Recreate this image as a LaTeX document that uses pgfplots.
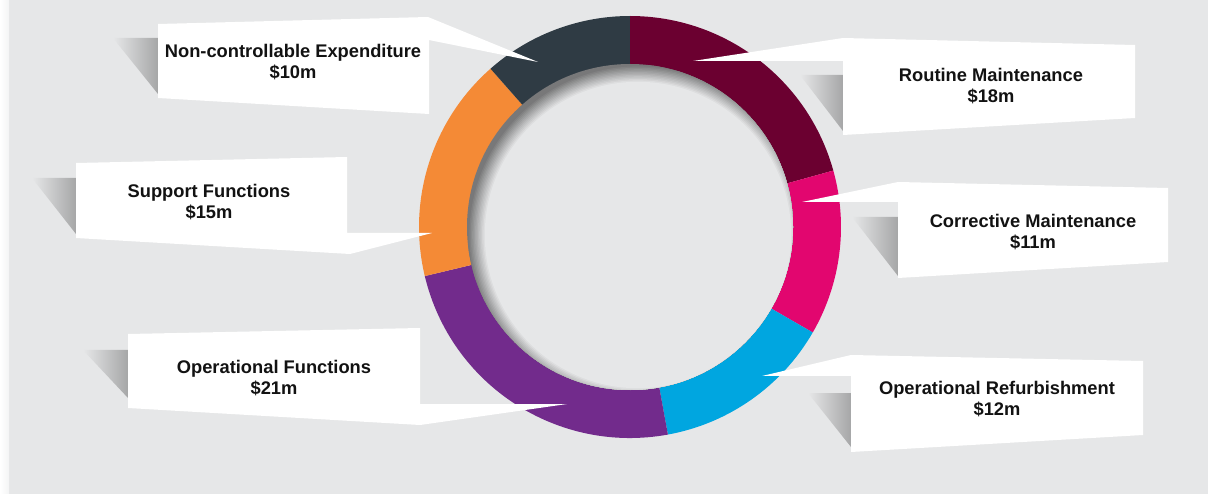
\documentclass[border=0pt]{standalone}
\usepackage{pgfplots}
\pgfplotsset{compat=1.18}
\usepackage{pgfplotstable}
\usepackage{fontspec}
\setmainfont{Liberation Sans}
\definecolor{bg}{HTML}{E6E7E8}
\definecolor{slice0}{HTML}{6B0030}
\definecolor{slice1}{HTML}{E2066F}
\definecolor{slice2}{HTML}{00A6E0}
\definecolor{slice3}{HTML}{722B8C}
\definecolor{slice4}{HTML}{F48A36}
\definecolor{slice5}{HTML}{2F3B44}
\colorlet{shadowc}{black!48!bg}
\colorlet{boxshadow}{black!28!bg}

% value in $m, clockwise from 12 o'clock
\pgfplotstableread{
label value
RoutineMaintenance 18
CorrectiveMaintenance 11
OperationalRefurbishment 12
OperationalFunctions 21
SupportFunctions 15
NonControllableExpenditure 10
}\donutdata

\begin{document}
\begin{tikzpicture}
% cumulative angles from the table
\def\total{0}
\pgfplotsforeachungrouped \i in {0,...,5}{%
  \pgfplotstablegetelem{\i}{value}\of\donutdata
  \pgfmathsetmacro\total{\total+\pgfplotsretval}}
\def\cur{90}
\pgfplotsforeachungrouped \i in {0,...,5}{%
  \pgfplotstablegetelem{\i}{value}\of\donutdata
  \pgfmathsetmacro\nxt{\cur-\pgfplotsretval/\total*360}%
  \expandafter\xdef\csname sA\i\endcsname{\cur}%
  \expandafter\xdef\csname sB\i\endcsname{\nxt}%
  \global\let\cur\nxt}
\begin{axis}[
  x=1pt, y=1pt, y dir=reverse,
  xmin=0, xmax=1208, ymin=0, ymax=494,
  hide axis, clip=false,
]
% background
\fill[bg] (axis cs:0,0) rectangle (axis cs:1208,494);
\shade[left color=white, right color=white!55!bg] (axis cs:0,0) rectangle (axis cs:9,494);

% callout shadows
\shade[left color=bg, right color=boxshadow] (axis cs:113,38) -- (axis cs:158,38) -- (axis cs:158,94) -- cycle;
\shade[left color=bg, right color=boxshadow] (axis cs:32,178) -- (axis cs:76,178) -- (axis cs:76,234) -- cycle;
\shade[left color=bg, right color=boxshadow] (axis cs:83,350) -- (axis cs:128,350) -- (axis cs:128,398) -- cycle;
\shade[left color=bg, right color=boxshadow] (axis cs:800,75) -- (axis cs:843,75) -- (axis cs:843,131) -- cycle;
\shade[left color=bg, right color=boxshadow] (axis cs:852,217) -- (axis cs:898,217) -- (axis cs:898,276) -- cycle;
\shade[left color=bg, right color=boxshadow] (axis cs:808,393) -- (axis cs:851,393) -- (axis cs:851,447) -- cycle;

% donut slices
\pgfplotsinvokeforeach{0,...,5}{%
  \edef\temp{\noexpand\fill[slice#1] (axis cs:630,227) -- ++(\csname sA#1\endcsname:211pt)
    arc[start angle=\csname sA#1\endcsname, end angle=\csname sB#1\endcsname, radius=211pt] -- cycle;}%
  \temp
}
% hole with inner shadow
\fill[shadowc] (axis cs:630,227) circle[radius=163pt];
\begin{scope}
\clip (axis cs:630,227) circle[radius=163pt];
\pgfplotsinvokeforeach{0,...,12}{%
  \pgfmathsetmacro\rr{170-1.4*#1}%
  \pgfmathsetmacro\mix{100*#1/12}%
  \edef\temp{\noexpand\fill[bg!\mix!shadowc] (axis cs:638,235) circle[radius=\rr pt];}%
  \temp
}
\end{scope}

% callout boxes with pointers
\fill[white] (axis cs:158,24) -- (axis cs:428,17) -- (axis cs:538,62) -- (axis cs:429,40) -- (axis cs:429,114) -- (axis cs:158,98) -- cycle;
\fill[white] (axis cs:76,163) -- (axis cs:347,157) -- (axis cs:347,233) -- (axis cs:432,233) -- (axis cs:350,254) -- (axis cs:76,238) -- cycle;
\fill[white] (axis cs:128,334) -- (axis cs:420,328) -- (axis cs:420,404) -- (axis cs:567,404) -- (axis cs:420,425) -- (axis cs:128,408) -- cycle;
\fill[white] (axis cs:843,38) -- (axis cs:1135,45) -- (axis cs:1135,118) -- (axis cs:843,135) -- (axis cs:843,61) -- (axis cs:693,61) -- cycle;
\fill[white] (axis cs:898,182) -- (axis cs:1168,188) -- (axis cs:1168,262) -- (axis cs:898,278) -- (axis cs:898,202) -- (axis cs:802,202) -- cycle;
\fill[white] (axis cs:851,355) -- (axis cs:1143,361) -- (axis cs:1143,435) -- (axis cs:851,452) -- (axis cs:851,376) -- (axis cs:762,376) -- cycle;

% labels
\tikzset{lab/.style={align=center, text=black!93, font=\bfseries\fontsize{18.3}{21.5}\selectfont}}
\node[lab] at (axis cs:293,62) {Non-controllable Expenditure\\\$10m};
\node[lab] at (axis cs:209,202) {Support Functions\\\$15m};
\node[lab] at (axis cs:274,378) {Operational Functions\\\$21m};
\node[lab] at (axis cs:991,86) {Routine Maintenance\\\$18m};
\node[lab] at (axis cs:1033,232) {Corrective Maintenance\\\$11m};
\node[lab] at (axis cs:997,399) {Operational Refurbishment\\\$12m};
\end{axis}
\end{tikzpicture}
\end{document}
